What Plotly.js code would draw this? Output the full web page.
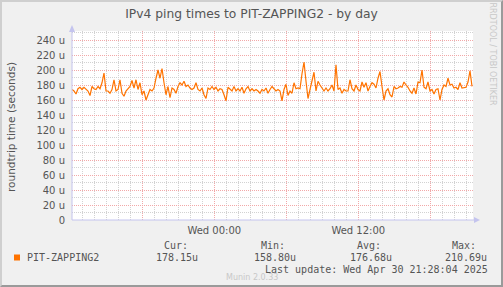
<!DOCTYPE html>
<html>
<head>
<meta charset="utf-8">
<script src="https://cdn.plot.ly/plotly-3.0.1.min.js"></script>
<style>
  html, body { margin: 0; padding: 0; background: #F0F0F0; }
  #wrap { position: relative; width: 503px; height: 287px; box-sizing: border-box;
          border-top: 2px solid #cfcfcf; border-left: 2px solid #cfcfcf;
          border-right: 2px solid #9a9a9a; border-bottom: 2px solid #9a9a9a; overflow: hidden; }
  #chart { position: absolute; left: -2px; top: -2px; width: 503px; height: 287px; }
</style>
</head>
<body>
<div id="wrap"><div id="chart"></div></div>
<script>
// ---- data ----
const seriesName = 'PIT-ZAPPING2';
const startTime = '2025-04-29T12:08:30Z';   // first sample
const stepMinutes = 10;                      // sample spacing
const pingMicros = [
  174,172,168,175,177,174,177,175,172,166,178,175,174,178,175,183,196,172,172,169,
  174,187,172,174,187,169,165,172,175,178,186,176,187,174,183,167,172,160,167,174,
  172,176,189,200,189,202,183,167,178,163,176,
  174,169,178,183,180,185,178,180,176,174,176,183,174,172,176,167,162,176,174,178,
  174,177,172,175,174,167,159,177,174,172,178,172,175,172,177,169,175,178,172,175,
  172,174,172,169,174,172,176,169,174,178,
  175,172,174,172,158.8,174,181,166,172,169,183,175,176,175,195,210.69,185,162,174,187,
  197,172,185,180,175,172,176,172,175,180,172,207,174,176,169,174,172,172,187,175,
  172,180,174,172,184,177,183,172,178,183,
  181,176,189,198,178,160,172,175,167,164,178,175,176,178,177,184,180,177,172,169,
  176,168,184,183,200,177,175,184,172,174,168,174,175,160,174,180,178,189,180,181,
  176,177,174,183,176,177,177,184,199,178.15
];
const xRange = ['2025-04-29 12:08:30', '2025-04-30 21:33:30'];
const xTickVals = ['2025-04-29 18:00','2025-04-30 00:00','2025-04-30 06:00','2025-04-30 12:00','2025-04-30 18:00'];
const xTickText = ['', 'Wed 00:00', '', 'Wed 12:00', ''];
const yTickVals = [0,20,40,60,80,100,120,140,160,180,200,220,240];
const yTickText = ['0','20 u','40 u','60 u','80 u','100 u','120 u','140 u','160 u','180 u','200 u','220 u','240 u'];
const legendHeaders = ['Cur:', 'Min:', 'Avg:', 'Max:'];
const legendValues = ['178.15u', '158.80u', '176.68u', '210.69u'];
const lastUpdate = 'Last update: Wed Apr 30 21:28:04 2025';

// ---- build ----
const t0 = Date.parse(startTime);
const times = pingMicros.map((v, i) =>
  new Date(t0 + i * stepMinutes * 60000).toISOString().replace('T', ' ').slice(0, 19));

const W = 503, H = 287, L = 72, R = 473, T = 31, B = 220;
const px = x => (x - L) / (R - L);
const py = y => (B - y) / (B - T);

const lineColor = '#ff7300';
const textColor = '#555555';
const axisColor = '#c4c4ee';
const majorGrid = '#f2a8a8';
const minorGrid = '#d2d2d2';
const mono = '"DejaVu Sans Mono", monospace';
const sans = '"DejaVu Sans", sans-serif';

const trace = {
  type: 'scatter', mode: 'lines', x: times, y: pingMicros, name: seriesName,
  line: { color: lineColor, width: 1.2 }, hoverinfo: 'skip'
};

const headerX = [176, 272.5, 368.7, 463.8];
const valueX = [199, 296.7, 392.7, 488.3];
const annotations = [
  { text: 'roundtrip time (seconds)', x: px(11), y: py(127), textangle: -90,
    xanchor: 'center', yanchor: 'middle', font: { family: sans, size: 10.5, color: textColor } },
  { text: seriesName, x: px(26), y: py(257), xanchor: 'left', yanchor: 'middle',
    font: { family: mono, size: 10, color: textColor } },
  { text: lastUpdate, x: px(489), y: py(269), xanchor: 'right', yanchor: 'middle',
    font: { family: mono, size: 10, color: textColor } },
  { text: 'Munin 2.0.33', x: px(252), y: py(277), xanchor: 'center', yanchor: 'middle',
    font: { family: sans, size: 8, color: '#c8c8c8' } },
  { text: 'RRDTOOL / TOBI OETIKER', x: px(492.5), y: py(54), textangle: 90,
    xanchor: 'center', yanchor: 'middle', font: { family: sans, size: 8, color: '#c8c8c8' } }
];
legendHeaders.forEach((h, i) => annotations.push({
  text: h, x: px(headerX[i]), y: py(245.5), xanchor: 'center', yanchor: 'middle',
  font: { family: mono, size: 10, color: textColor } }));
legendValues.forEach((v, i) => annotations.push({
  text: v, x: px(valueX[i]), y: py(257), xanchor: 'right', yanchor: 'middle',
  font: { family: mono, size: 10, color: textColor } }));
annotations.forEach(a => { a.xref = 'paper'; a.yref = 'paper'; a.showarrow = false; a.borderpad = 0; });

const shapes = [
  // legend swatch
  { type: 'rect', xref: 'paper', yref: 'paper', x0: px(14), x1: px(20), y0: py(260.5), y1: py(254.5),
    fillcolor: lineColor, line: { width: 0 } },
  // y-axis line + arrow
  { type: 'line', xref: 'paper', yref: 'paper', x0: 0, x1: 0, y0: 0, y1: py(29),
    line: { color: axisColor, width: 1 }, layer: 'above' },
  { type: 'path', xref: 'paper', yref: 'paper',
    path: `M ${px(69)} ${py(32)} L ${px(75)} ${py(32)} L ${px(72)} ${py(25)} Z`,
    fillcolor: axisColor, line: { width: 0 }, layer: 'above' },
  // x-axis line + arrow
  { type: 'line', xref: 'paper', yref: 'paper', x0: 0, x1: px(476), y0: 0, y1: 0,
    line: { color: axisColor, width: 1 }, layer: 'above' },
  { type: 'path', xref: 'paper', yref: 'paper',
    path: `M ${px(474)} ${py(217)} L ${px(474)} ${py(223)} L ${px(480)} ${py(220)} Z`,
    fillcolor: axisColor, line: { width: 0 }, layer: 'above' }
];

const layout = {
  width: W, height: H,
  margin: { l: L, r: W - R, t: T, b: H - B, pad: 0 },
  paper_bgcolor: 'rgba(0,0,0,0)', plot_bgcolor: '#ffffff',
  showlegend: false,
  title: { text: 'IPv4 ping times to PIT-ZAPPING2 - by day', xref: 'container', yref: 'container',
           x: 0.5, y: 1 - 14 / H, xanchor: 'center', yanchor: 'middle',
           font: { family: sans, size: 12.3, color: textColor } },
  xaxis: {
    type: 'date', range: xRange, tickmode: 'array', tickvals: xTickVals, ticktext: xTickText,
    showgrid: true, gridcolor: majorGrid, griddash: '1px,1px', gridwidth: 1,
    zeroline: false, showline: false, ticks: '', ticklabelstandoff: 3,
    tickfont: { family: sans, size: 10, color: textColor },
    minor: { dtick: 3600000, tick0: '2025-04-30 00:00', showgrid: true, gridcolor: minorGrid,
             griddash: '1px,1px', gridwidth: 1, ticks: '' },
    fixedrange: true
  },
  yaxis: {
    range: [0, 252], tickmode: 'array', tickvals: yTickVals, ticktext: yTickText,
    showgrid: true, gridcolor: majorGrid, griddash: '1px,1px', gridwidth: 1,
    zeroline: false, showline: false, ticks: '', ticklabelstandoff: 6,
    tickfont: { family: sans, size: 10, color: textColor },
    minor: { dtick: 10, tick0: 0, showgrid: true, gridcolor: minorGrid,
             griddash: '1px,1px', gridwidth: 1, ticks: '' },
    fixedrange: true
  },
  annotations: annotations,
  shapes: shapes
};

Plotly.newPlot('chart', [trace], layout, { staticPlot: true, displayModeBar: false });
</script>
</body>
</html>
